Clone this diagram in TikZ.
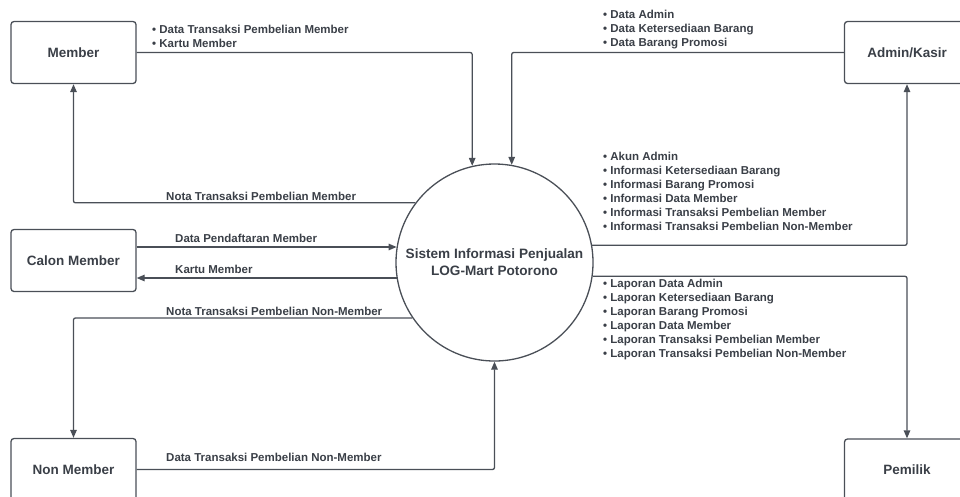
\documentclass[tikz,border=0pt]{standalone}
\usepackage{fontspec}
\setmainfont{Liberation Sans}
\usetikzlibrary{arrows.meta}
\definecolor{ink}{HTML}{3A3F47}
\definecolor{wire}{HTML}{4A4F57}

\begin{document}
\begin{tikzpicture}[x=1pt, y=-1pt, every node/.style={text=ink, font=\bfseries},
    entity/.style={draw=wire, line width=1.3pt, rounded corners=3pt, minimum width=125pt, minimum height=62pt, font=\fontsize{13.5}{16}\selectfont\bfseries},
    process/.style={draw=wire, line width=1.3pt, circle, minimum size=197pt, align=center, font=\fontsize{13.6}{17}\selectfont\bfseries},
    flowlabel/.style={anchor=west, inner sep=0pt, align=left, font=\fontsize{11.5}{14}\selectfont\bfseries},
    flow/.style={draw=wire, line width=1.3pt, rounded corners=2pt, -{Triangle[length=8pt,width=6.5pt]}}]
\clip (0,0) rectangle (960,496);
\node[process] (sys) at (494.5,262.5) {Sistem Informasi Penjualan\\LOG-Mart Potorono};
\node[entity] (member) at (73.5,52.5) {Member};
\node[entity] (calon) at (73.5,260.5) {Calon Member};
\node[entity] (nonmember) at (73.5,469.5) {Non Member};
\node[entity] (admin) at (907,52.5) {Admin/Kasir};
\node[entity] (pemilik) at (907,470) {Pemilik};

\draw[flow] (member) -| (sys.103);
\draw[flow] (sys.143) -| (member);
\draw[flow] (calon.east |- sys.171) -- (sys.171);
\draw[flow] (sys.189) -- (calon.east |- sys.189);
\draw[flow] (sys.214) -| (nonmember);
\draw[flow] (nonmember) -| (sys.south);
\draw[flow] (admin) -| (sys.80);
\draw[flow] (sys.10) -| (admin);
\draw[flow] (sys.352) -| (pemilik);

\node[flowlabel] (lmember) at (152,36) {• Data Transaksi Pembelian Member\\• Kartu Member};
\node[flowlabel] (lnota) at (166,196) {Nota Transaksi Pembelian Member};
\node[flowlabel] (ldaftar) at (175,238) {Data Pendaftaran Member};
\node[flowlabel] (lkartu) at (175,269) {Kartu Member};
\node[flowlabel] (lnotanon) at (166,311) {Nota Transaksi Pembelian Non-Member};
\node[flowlabel] (ldatanon) at (166,457) {Data Transaksi Pembelian Non-Member};
\node[flowlabel] (ladmin) at (603,30) {• Data Admin\\• Data Ketersediaan Barang\\• Data Barang Promosi};
\node[flowlabel] (linfo) at (603,191) {• Akun Admin\\• Informasi Ketersediaan Barang\\• Informasi Barang Promosi\\• Informasi Data Member\\• Informasi Transaksi Pembelian Member\\• Informasi Transaksi Pembelian Non-Member};
\node[flowlabel] (llaporan) at (603,320) {• Laporan Data Admin\\• Laporan Ketersediaan Barang\\• Laporan Barang Promosi\\• Laporan Data Member\\• Laporan Transaksi Pembelian Member\\• Laporan Transaksi Pembelian Non-Member};
\end{tikzpicture}
\end{document}
